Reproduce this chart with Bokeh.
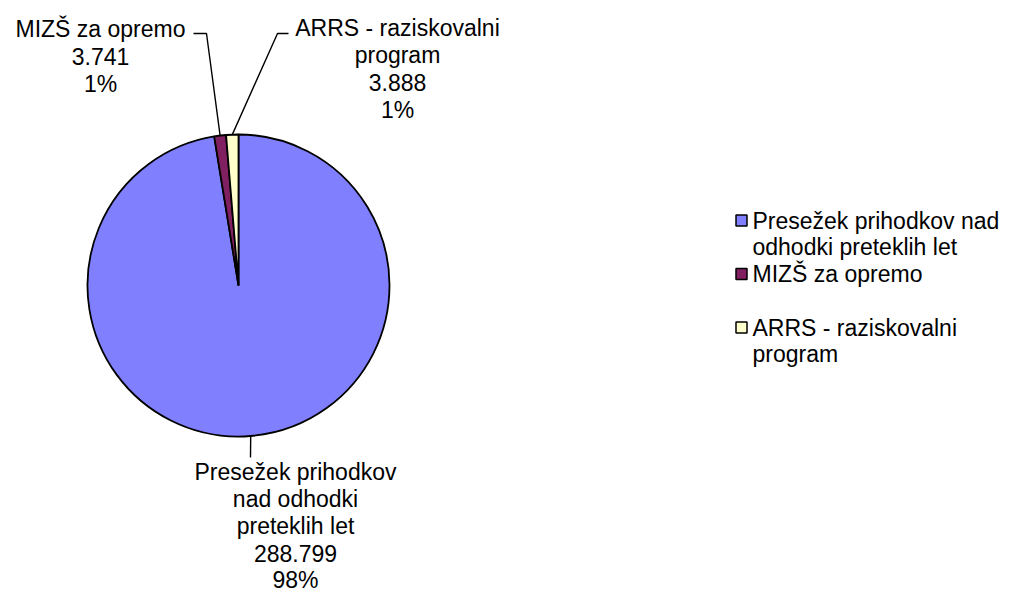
import numpy as np
from bokeh.plotting import figure
from bokeh.models import Range1d, ColumnDataSource
from bokeh.core.properties import value
from bokeh.embed import file_html
from bokeh.resources import INLINE

# ---- data ----
categories = ["Presežek prihodkov nad odhodki preteklih let", "MIZŠ za opremo", "ARRS - raziskovalni program"]
values = [288.799, 3.741, 3.888]
percent_labels = ["98%", "1%", "1%"]
pie_label_lines = [["Presežek prihodkov", "nad odhodki", "preteklih let"],
                   ["MIZŠ za opremo"],
                   ["ARRS - raziskovalni", "program"]]
legend_label_lines = [["Presežek prihodkov nad", "odhodki preteklih let"],
                      ["MIZŠ za opremo"],
                      ["ARRS - raziskovalni", "program"]]
colors = ["#8080FF", "#802060", "#FFFFCC"]

# ---- layout (screen pixel coords; y measured downward from top) ----
W, H = 1019, 592
def Y(py):
    return H - py

cx, cy, R = 238, Y(285), 151
FONT = value("Liberation Sans")
FS = "23px"

label_x = [295, 100, 397]
label_y0 = [471, 28, 27.5]
label_step = [27.2, 27.7, 27.3]
# leader line waypoints after the pie edge point
leader_pts = [[(250, 457)], [(206, 33), (193, 33)], [(277, 33), (288, 33)]]

legend_sq_x = 741
legend_text_x = 752
legend_y0 = [220, 273.5, 327]
legend_line = 26.8

p = figure(width=W, height=H, x_range=Range1d(0, W), y_range=Range1d(0, H),
           output_backend="svg", toolbar_location=None, min_border=0)
p.axis.visible = False
p.grid.visible = False
p.outline_line_color = None
p.background_fill_color = "white"
p.border_fill_color = "white"

vals = np.array(values)
frac = vals / vals.sum()
cum_after = np.cumsum(frac)
cum_before = cum_after - frac
start = np.pi / 2 - 2 * np.pi * cum_after
end = np.pi / 2 - 2 * np.pi * cum_before
mid = (start + end) / 2

src = ColumnDataSource(dict(start=start, end=end, color=colors, cat=categories))
p.wedge(x=cx, y=cy, radius=R, start_angle="start", end_angle="end", direction="anticlock",
        fill_color="color", line_color="black", line_width=1.8, source=src)

# leader lines
xs, ys = [], []
for i in range(len(values)):
    ex = cx + R * np.cos(mid[i])
    ey = cy + R * np.sin(mid[i])
    lx = [ex] + [pt[0] for pt in leader_pts[i]]
    ly = [ey] + [Y(pt[1]) for pt in leader_pts[i]]
    xs.append(lx)
    ys.append(ly)
p.multi_line(xs=xs, ys=ys, line_color="black", line_width=1.4)

# data labels
tx, ty, tt = [], [], []
for i in range(len(values)):
    lines = pie_label_lines[i] + [f"{values[i]:.3f}", percent_labels[i]]
    for j, t in enumerate(lines):
        tx.append(label_x[i])
        ty.append(Y(label_y0[i] + j * label_step[i]))
        tt.append(t)
p.text(x=tx, y=ty, text=tt, text_align="center", text_baseline="middle",
       text_font=FONT, text_font_size=FS, text_color="black")

# legend
lx, ly, lt = [], [], []
for i in range(len(values)):
    for j, t in enumerate(legend_label_lines[i]):
        lx.append(legend_text_x)
        ly.append(Y(legend_y0[i] + j * legend_line))
        lt.append(t)
p.scatter(x=[legend_sq_x] * len(values), y=[Y(v) for v in legend_y0], marker="square", size=11,
          fill_color=colors, line_color="black", line_width=1.5)
p.text(x=lx, y=ly, text=lt, text_align="left", text_baseline="middle",
       text_font=FONT, text_font_size=FS, text_color="black")

open("out.html", "w").write(file_html(p, INLINE))
